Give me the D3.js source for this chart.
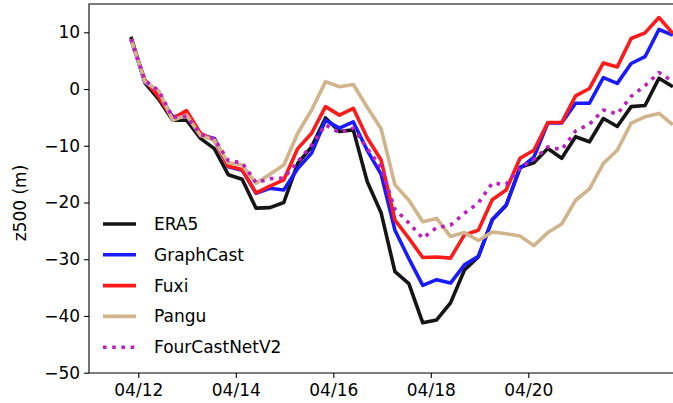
<!DOCTYPE html>
<html>
<head>
<meta charset="utf-8">
<script src="https://cdn.jsdelivr.net/npm/d3@7"></script>
<style>
  body { margin: 0; background: #fff; }
  text { font-family: "DejaVu Sans", sans-serif; }
</style>
</head>
<body>
<script>
// forecast valid times: first point 04/11 ~20h, one point every ~6.84 h
const startHours = 20.4;
const stepHours = 6.84;

const era5 = [9.2, 1.1, -1.8, -5.5, -5.5, -8.7, -10.5, -15.1, -15.9, -21.0,
  -20.9, -20.0, -13.1, -10.2, -5.1, -7.5, -7.2, -16.3, -21.8, -32.2,
  -34.3, -41.2, -40.7, -37.7, -31.9, -29.6, -23.0, -20.5, -13.8, -13.0,
  -10.5, -12.2, -8.4, -9.3, -5.2, -6.6, -3.1, -2.9, 1.9, 0.4];
const graphcast = [8.8, 1.3, -1.0, -4.9, -4.6, -8.1, -8.7, -13.7, -14.3, -18.4,
  -17.5, -17.8, -14.0, -11.3, -5.5, -6.9, -5.8, -10.8, -15.0, -24.9,
  -29.9, -34.6, -33.6, -34.2, -31.0, -29.5, -23.1, -20.5, -14.0, -12.0,
  -6.0, -6.0, -2.5, -2.5, 2.0, 1.0, 4.5, 5.7, 10.5, 9.5];
const fuxi = [8.8, 1.6, -1.4, -5.2, -3.8, -7.8, -9.0, -13.6, -14.2, -18.3,
  -17.1, -16.0, -10.5, -7.8, -3.1, -4.6, -3.4, -8.6, -12.5, -23.1,
  -26.3, -29.7, -29.6, -29.8, -25.7, -24.9, -19.5, -17.8, -12.2, -10.8,
  -5.9, -5.9, -1.2, 0.1, 4.6, 3.9, 8.9, 9.9, 12.6, 9.8];
const pangu = [8.8, 1.3, -0.3, -5.5, -4.6, -8.2, -9.0, -13.0, -13.4, -16.6,
  -15.0, -13.4, -7.8, -3.7, 1.3, 0.4, 0.8, -3.2, -7.0, -16.9,
  -19.6, -23.4, -22.8, -26.0, -25.3, -26.7, -25.2, -25.5, -25.9, -27.6,
  -25.3, -23.8, -19.6, -17.6, -13.1, -10.8, -6.0, -4.9, -4.3, -6.3];
const fourcastnet = [8.8, 1.5, -0.3, -5.0, -4.8, -8.0, -8.8, -12.6, -13.0, -16.5,
  -15.8, -15.7, -12.8, -9.9, -6.3, -7.7, -6.9, -10.5, -13.8, -21.2,
  -23.6, -26.3, -24.4, -24.0, -21.9, -20.1, -16.6, -16.8, -13.9, -12.4,
  -10.2, -10.7, -7.4, -6.2, -3.7, -4.4, -1.3, 0.6, 2.9, 1.3];

const seriesNames = ["ERA5", "GraphCast", "Fuxi", "Pangu", "FourCastNetV2"];
const seriesColors = ["#151515", "#1a1aff", "#ff1a1a", "#d2b48c", "#bf1fbf"];
const xTickDays = [12, 14, 16, 18, 20];
const yTicks = [-50, -40, -30, -20, -10, 0, 10];

const width = 673, height = 403;
const plotLeft = 89, plotTop = 4, plotBottom = 373;

const base = Date.UTC(2024, 3, 11);
const times = era5.map((d, i) => new Date(base + (startHours + i * stepHours) * 3600e3));
const allSeries = [era5, graphcast, fuxi, pangu, fourcastnet];

const svg = d3.select("body").append("svg")
  .attr("width", width).attr("height", height);

const x = d3.scaleUtc()
  .domain([new Date(Date.UTC(2024, 3, 12)), new Date(Date.UTC(2024, 3, 20))])
  .range([138.3, 528.3]);
const y = d3.scaleLinear().domain([-50, 10]).range([372.7, 32.3]);

// lines
const line = d3.line().x((d, i) => x(times[i])).y(d => y(d));
svg.append("g").selectAll("path")
  .data(allSeries)
  .enter().append("path")
    .attr("d", line)
    .attr("fill", "none")
    .attr("stroke", (d, i) => seriesColors[i])
    .attr("stroke-width", 3.6)
    .attr("stroke-linejoin", "round")
    .attr("stroke-dasharray", (d, i) => i === 4 ? "3.6,5.6" : null);

// axes
const xAxis = svg.append("g")
  .attr("transform", "translate(0," + plotBottom + ")")
  .call(d3.axisBottom(x)
    .tickValues(xTickDays.map(d => new Date(Date.UTC(2024, 3, d))))
    .tickFormat(d3.utcFormat("%m/%d"))
    .tickSize(4.9).tickPadding(6));
const yAxis = svg.append("g")
  .attr("transform", "translate(" + plotLeft + ",0)")
  .call(d3.axisLeft(y).tickValues(yTicks).tickSize(4.9).tickPadding(4));
[xAxis, yAxis].forEach(a => {
  a.select(".domain").remove();
  a.selectAll("line").attr("stroke", "#000").attr("stroke-width", 1.1);
  a.selectAll("text").attr("font-size", 17).attr("fill", "#000")
    .style("font-family", "DejaVu Sans, sans-serif");
});

// spines
svg.append("path")
  .attr("d", `M${width + 5},${plotTop}H${plotLeft}V${plotBottom}H${width + 5}`)
  .attr("fill", "none").attr("stroke", "#000").attr("stroke-width", 1.1);

// y label
svg.append("text")
  .attr("transform", "translate(26,203) rotate(-90)")
  .attr("text-anchor", "middle")
  .attr("font-size", 17)
  .text("z500 (m)");

// legend
const legend = svg.append("g").selectAll("g")
  .data(seriesNames)
  .enter().append("g")
    .attr("transform", (d, i) => "translate(103," + (224 + i * 30.8) + ")");
legend.append("line")
  .attr("x1", 0).attr("x2", 33)
  .attr("stroke", (d, i) => seriesColors[i])
  .attr("stroke-width", 3.6)
  .attr("stroke-dasharray", (d, i) => i === 4 ? "3.6,5.6" : null);
legend.append("text")
  .attr("x", 51).attr("dy", "0.35em")
  .attr("font-size", 17)
  .text(d => d);
</script>
</body>
</html>
